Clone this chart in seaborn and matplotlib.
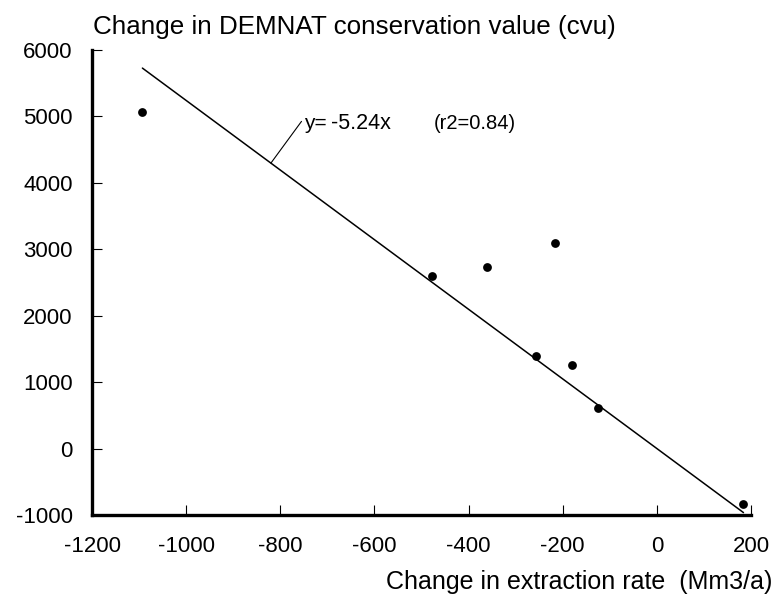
import matplotlib
matplotlib.use("Agg")
import matplotlib.pyplot as plt
import seaborn as sns
import numpy as np
import pandas as pd

# Data
extraction_change = [-1093, -477, -360, -216, -257, -180, -125, 184]
cvu_change = [5060, 2590, 2740, 3087, 1386, 1265, 617, -828]
slope = -5.24
r2 = 0.84
x_ticks = [-1200, -1000, -800, -600, -400, -200, 0, 200]
y_ticks = [-1000, 0, 1000, 2000, 3000, 4000, 5000, 6000]

title_text = "Change in DEMNAT conservation value (cvu)"
xlabel_text = "Change in extraction rate  (Mm3/a)"
annot_parts = ["y=", "-5.24x", "(r2=0.84)"]
annot_x = [-750, -693, -475]

sns.set_theme(style="ticks")
plt.rcParams["font.family"] = ["Liberation Sans", "DejaVu Sans"]

df = pd.DataFrame({"x": extraction_change, "y": cvu_change})
xs = np.array([min(extraction_change), max(extraction_change)])
fit = pd.DataFrame({"x": xs, "y": slope * xs})

fig = plt.figure(figsize=(7.74, 6.05), dpi=100)
ax = fig.add_axes([0.1189, 0.1488, 0.8514, 0.7686])

sns.lineplot(data=fit, x="x", y="y", ax=ax, color="black", linewidth=1.1)
sns.scatterplot(data=df, x="x", y="y", ax=ax, color="black", s=40,
                edgecolor="black", linewidth=0, zorder=3)

ax.set_xlim(-1200, 200)
ax.set_ylim(-1000, 6000)
ax.set_xticks(x_ticks)
ax.set_yticks(y_ticks)
ax.set_xticklabels([str(v) for v in x_ticks])
ax.set_yticklabels([str(v) for v in y_ticks])
ax.set_xlabel("")
ax.set_ylabel("")

for s in ["top", "right"]:
    ax.spines[s].set_visible(False)
for s in ["left", "bottom"]:
    ax.spines[s].set_linewidth(2.4)
    ax.spines[s].set_color("black")

ax.tick_params(axis="both", direction="in", length=7, width=0.8,
               colors="black", labelsize=16)
ax.tick_params(axis="x", pad=15)
ax.tick_params(axis="y", pad=14)

# annotation with leader line
ax.plot([-820, -755], [slope * -820, 4925], color="black", linewidth=0.8)
for txt, xpos, fs in zip(annot_parts, annot_x, [15, 15.5, 14.5]):
    ax.text(xpos, 4900, txt, fontsize=fs, ha="left", va="center",
            color="black")

fig.text(93 / 774, 1 - 27 / 605, title_text, fontsize=18.7, ha="left",
         va="center", color="black")
fig.text(772 / 774, 1 - 582 / 605, xlabel_text, fontsize=18, ha="right",
         va="center", color="black")

fig.savefig("out.png", dpi=100)
